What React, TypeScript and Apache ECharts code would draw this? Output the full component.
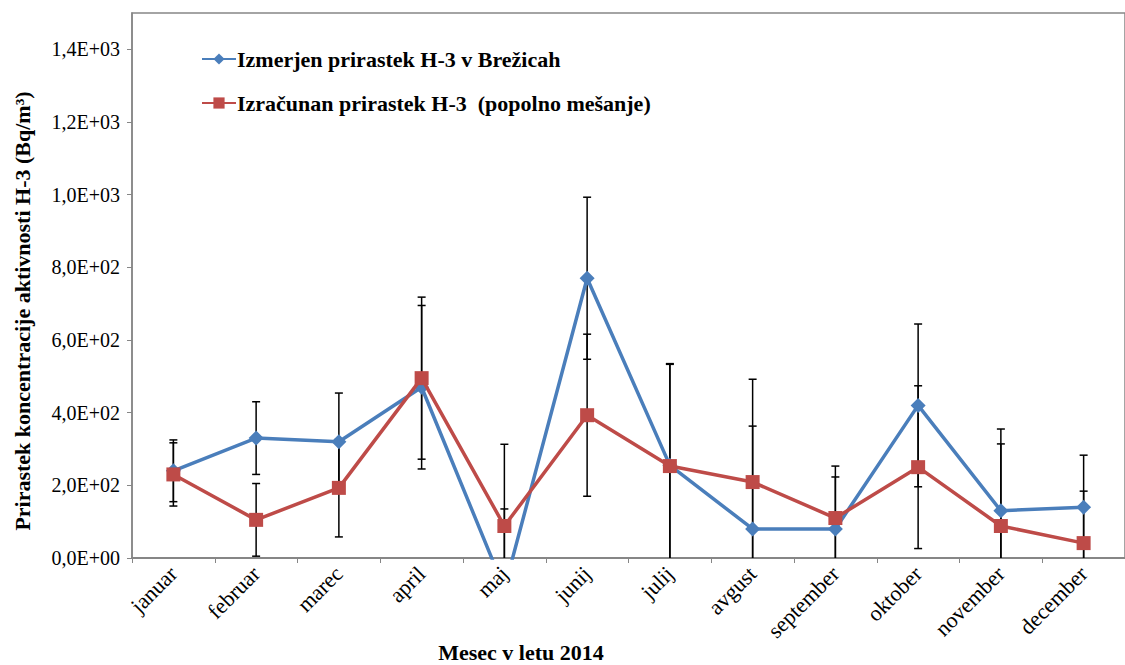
import React, { useEffect, useRef } from "react";
import * as echarts from "echarts";

const categories = ["januar", "februar", "marec", "april", "maj", "junij", "julij", "avgust", "september", "oktober", "november", "december"];
const measured = [240, 330, 320, 470, -85, 770, 255, 80, 80, 420, 130, 140];
const measuredErr = [85, 100, 134, 225, 220, 223, 280, 283, 143, 224, 225, 143];
const calculated = [230, 105, 193, 495, 88, 393, 253, 209, 110, 250, 88, 41];
const calculatedErr = [87, 100, 135, 223, 225, 223, 280, 283, 143, 224, 226, 143];
const seriesNames = ["Izmerjen prirastek H-3 v Brežicah", "Izračunan prirastek H-3  (popolno mešanje)"];
const yAxisTitle = "Prirastek koncentracije aktivnosti H-3 (Bq/m³)";
const xAxisTitle = "Mesec v letu 2014";

const FONT = "'Liberation Serif', 'Times New Roman', serif";

function sci(v: number): string {
  if (v === 0) return "0,0E+00";
  const e = Math.floor(Math.log10(Math.abs(v)) + 1e-9);
  const m = v / Math.pow(10, e);
  const es = (e >= 0 ? "+" : "-") + String(Math.abs(e)).padStart(2, "0");
  return m.toFixed(1).replace(".", ",") + "E" + es;
}

function errData(vals: number[], errs: number[]) {
  return vals.map((v, i) => [i, v - errs[i], v + errs[i]]);
}

function renderErr(params: any, api: any) {
  const cs = params.coordSys;
  const top = cs.y;
  const bottom = cs.y + cs.height;
  const idx = api.value(0);
  const x = api.coord([idx, 0])[0];
  const lo = api.coord([idx, api.value(1)])[1];
  const hi = api.coord([idx, api.value(2)])[1];
  const y1 = Math.max(top, Math.min(bottom, hi));
  const y2 = Math.max(top, Math.min(bottom, lo));
  const style = { stroke: "#000", lineWidth: 1.5 };
  const children: any[] = [
    { type: "line", shape: { x1: x, y1: y1, x2: x, y2: y2 }, style },
  ];
  const cap = 4;
  if (hi >= top && hi <= bottom) children.push({ type: "line", shape: { x1: x - cap, y1: hi, x2: x + cap, y2: hi }, style });
  if (lo >= top && lo <= bottom) children.push({ type: "line", shape: { x1: x - cap, y1: lo, x2: x + cap, y2: lo }, style });
  return { type: "group", children };
}

export default function App() {
  const ref = useRef<HTMLDivElement>(null);
  useEffect(() => {
    if (!ref.current) return;
    const chart = echarts.init(ref.current, null, { renderer: "svg" });
    chart.setOption({
      animation: false,
      backgroundColor: "#fff",
      grid: {
        left: 132,
        top: 13,
        width: 1008,
        height: 545,
        show: true,
        borderColor: "#868686",
        borderWidth: 1.5,
      },
      legend: {
        data: seriesNames,
        orient: "vertical",
        left: 196,
        top: 43,
        itemWidth: 34,
        itemHeight: 14,
        itemGap: 22,
        textStyle: { fontFamily: FONT, fontWeight: "bold", fontSize: 22, color: "#000", lineHeight: 22, padding: [0, 0, 0, -4] },
      },
      xAxis: {
        type: "category",
        data: categories,
        boundaryGap: true,
        axisLine: { lineStyle: { color: "#868686", width: 2 } },
        axisTick: { show: true, length: 5, lineStyle: { color: "#868686", width: 1 } },
        axisLabel: { rotate: 45, margin: 12, fontFamily: FONT, fontSize: 22, color: "#000", interval: 0 },
        splitLine: { show: false },
      },
      yAxis: {
        type: "value",
        min: 0,
        max: 1500,
        interval: 200,
        axisLine: { show: true, lineStyle: { color: "#868686", width: 1.5 } },
        axisTick: { show: true, length: 5, lineStyle: { color: "#868686", width: 1 } },
        axisLabel: { formatter: (v: number) => sci(v), showMaxLabel: false, margin: 12, fontFamily: FONT, fontSize: 20, color: "#000" },
        splitLine: { show: false },
      },
      graphic: [
        {
          type: "text",
          x: 521,
          y: 652,
          style: { text: xAxisTitle, font: `bold 22px ${FONT}`, fill: "#000", textAlign: "center", textVerticalAlign: "middle" },
        },
        {
          type: "text",
          x: 22,
          y: 311,
          rotation: Math.PI / 2,
          style: { text: yAxisTitle, font: `bold 22px ${FONT}`, fill: "#000", textAlign: "center", textVerticalAlign: "middle" },
        },
      ],
      series: [
        {
          type: "custom",
          name: "errMeasured",
          renderItem: renderErr,
          data: errData(measured, measuredErr),
          encode: { x: 0, y: [1, 2] },
          z: 1,
          silent: true,
        },
        {
          type: "custom",
          name: "errCalculated",
          renderItem: renderErr,
          data: errData(calculated, calculatedErr),
          encode: { x: 0, y: [1, 2] },
          z: 1,
          silent: true,
        },
        {
          type: "line",
          name: seriesNames[0],
          data: measured,
          symbol: "diamond",
          symbolSize: 15,
          clip: true,
          itemStyle: { color: "#4A7EBB" },
          lineStyle: { color: "#4A7EBB", width: 3.5 },
          z: 3,
        },
        {
          type: "line",
          name: seriesNames[1],
          data: calculated,
          symbol: "rect",
          symbolSize: 14,
          clip: true,
          itemStyle: { color: "#BE4B48" },
          lineStyle: { color: "#BE4B48", width: 3.5 },
          z: 4,
        },
      ],
    });
    return () => chart.dispose();
  }, []);
  return <div ref={ref} style={{ position: "fixed", left: 0, top: 0, width: 1125, height: 665 }} />;
}
